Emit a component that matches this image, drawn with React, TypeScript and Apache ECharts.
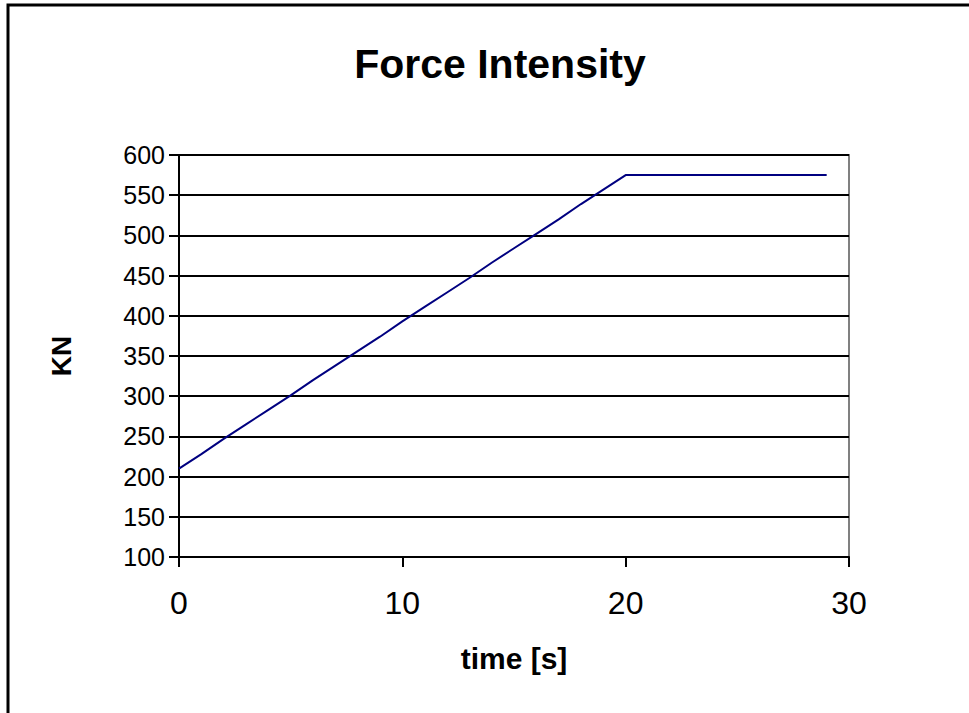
import React, { useEffect, useRef } from "react";
import * as echarts from "echarts";

const timeSeconds = [0,1,2,3,4,5,6,7,8,9,10,11,12,13,14,15,16,17,18,19,20,21,22,23,24,25,26,27,28,29];
const forceKN = [210,228,247,265,283,301,320,338,356,374,393,411,429,447,466,484,502,520,539,557,575,575,575,575,575,575,575,575,575,575];
const titleText = "Force Intensity";
const xAxisTitle = "time [s]";
const yAxisTitle = "KN";

export default function App() {
  const ref = useRef<HTMLDivElement>(null);
  useEffect(() => {
    if (!ref.current) return;
    const chart = echarts.init(ref.current, null, { renderer: "svg" });
    const data = timeSeconds.map((t, i) => [t, forceKN[i]]);
    const font = "Arial, 'Liberation Sans', sans-serif";
    chart.setOption({
      animation: false,
      backgroundColor: "#ffffff",
      title: {
        text: titleText,
        left: 495,
        top: 38,
        textAlign: "center",
        textStyle: { fontFamily: font, fontWeight: "bold", fontSize: 41, color: "#000" },
      },
      grid: {
        left: 179,
        right: 120,
        top: 155,
        bottom: 156,
        show: true,
        borderColor: "#808080",
        borderWidth: 2,
        backgroundColor: "transparent",
      },
      xAxis: {
        type: "value",
        min: 0,
        max: 30,
        interval: 10,
        name: xAxisTitle,
        nameLocation: "middle",
        nameGap: 86,
        nameTextStyle: { fontFamily: font, fontWeight: "bold", fontSize: 30, color: "#000" },
        axisLine: { show: true, onZero: false, lineStyle: { color: "#000", width: 2 } },
        axisTick: { show: true, inside: false, length: 10, lineStyle: { color: "#000", width: 2 } },
        axisLabel: { margin: 30, fontFamily: font, fontSize: 32, color: "#000" },
        splitLine: { show: false },
      },
      yAxis: {
        type: "value",
        min: 100,
        max: 600,
        interval: 50,
        name: yAxisTitle,
        nameLocation: "middle",
        nameGap: 104,
        nameRotate: 90,
        nameTextStyle: { fontFamily: font, fontWeight: "bold", fontSize: 28, color: "#000" },
        axisLine: { show: true, onZero: false, lineStyle: { color: "#000", width: 2 } },
        axisTick: { show: true, inside: false, length: 10, lineStyle: { color: "#000", width: 2 } },
        axisLabel: { margin: 14, fontFamily: font, fontSize: 25, color: "#000" },
        splitLine: { show: true, lineStyle: { color: "#000", width: 2 } },
      },
      series: [
        {
          type: "line",
          data,
          showSymbol: false,
          symbol: "none",
          lineStyle: { color: "#000080", width: 2 },
          z: 5,
        },
      ],
      graphic: [
        {
          type: "rect",
          shape: { x: 8, y: 5, width: 1000, height: 800 },
          style: { fill: "none", stroke: "#000", lineWidth: 3 },
          silent: true,
        },
      ],
    });
    return () => chart.dispose();
  }, []);
  return (
    <div
      ref={ref}
      style={{ position: "fixed", left: 0, top: 0, width: 969, height: 713 }}
    />
  );
}
